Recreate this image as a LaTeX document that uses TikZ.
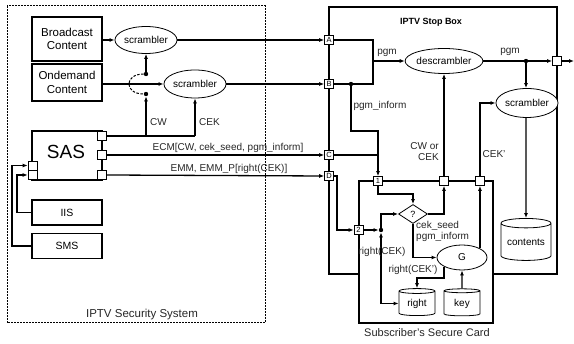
\documentclass[tikz,border=0pt]{standalone}
\usepackage{fontspec}
\setmainfont{Liberation Sans}
\usetikzlibrary{shapes.geometric,arrows.meta,calc}
\tikzset{
  conn/.style={line width=1.3pt},
  arr/.style={conn,-{Latex[length=5pt,width=4pt]}},
  boxn/.style={draw,line width=1.4pt,minimum width=70pt,inner sep=0pt,align=center,font=\fontsize{11.5}{13.5}\selectfont},
  ell/.style={ellipse,draw,line width=0.8pt,inner sep=0pt,fill=white,font=\fontsize{10}{12}\selectfont},
  port/.style={draw,fill=white,line width=0.7pt,minimum size=9pt,inner sep=0pt,font=\fontsize{7.5}{8}\selectfont},
  dot/.style={circle,fill=black,minimum size=4.4pt,inner sep=0pt},
  lbl/.style={font=\fontsize{10}{11}\selectfont,text=black!85,inner sep=0pt},
  cyl/.style={cylinder,shape border rotate=90,draw,line width=0.8pt,aspect=0.25,inner sep=0pt,font=\fontsize{10}{12}\selectfont},
}
\begin{document}
\begin{tikzpicture}[x=1pt,y=-1pt]
\useasboundingbox (0,0) rectangle (574,344);
% outer frames
\draw[line width=1pt,dash pattern=on 2pt off 1pt] (7,6) rectangle (265,323);
\node[lbl,font=\fontsize{11.5}{13}\selectfont] (iss) at (142,315) {IPTV Security System};
\draw[line width=1.3pt] (329,7) rectangle (557,274);
\node[lbl,font=\bfseries\fontsize{9}{10}\selectfont,text=black] (stb) at (431,22) {IPTV Stop Box};
% left boxes
\node[boxn,minimum height=44pt] (bc) at (67,39) {Broadcast\\Content};
\node[boxn,minimum height=37pt] (od) at (67,82.5) {Ondemand\\Content};
\node[draw,line width=1.4pt,minimum width=70pt,minimum height=49pt,inner sep=0pt] (sas) at (67,155.5) {};
\node[font=\fontsize{19}{20}\selectfont,inner sep=0pt] (sast) at (66,152) {SAS};
\node[boxn,minimum height=25pt,font=\fontsize{10.5}{12}\selectfont] (iis) at (67,212.5) {IIS};
\node[boxn,minimum height=25pt,font=\fontsize{10.5}{12}\selectfont] (sms) at (67,246) {SMS};
% SAS ports
\node[port] (s1) at (102,136) {};
\node[port] (s2) at (102,155) {};
\node[port] (s3) at (102,175) {};
\node[port] (l1) at (32.5,165.5) {};
\node[port] (l2) at (32.5,175) {};
% scramblers
\node[ell,minimum width=51pt,minimum height=27pt] (sc1) at (146,40) {scrambler};
\node[ell,minimum width=50pt,minimum height=28pt] (sc2) at (195,84) {scrambler};
\node[dot] (d1) at (146,74) {};
\node[dot] (d2) at (146,94) {};
\coordinate (cwb) at (146,136);
\coordinate (cekb) at (195,136);
\draw[arr] (bc.east |- sc1.west) -- (sc1.west);
\draw[arr] (od.east |- sc2.west) -- (sc2.west);
\draw[arr] (d1) -- (sc1.south);
\draw[line width=1pt,dash pattern=on 2.5pt off 1.5pt] (d1) .. controls (124,74) and (124,94) .. (d2);
\draw[conn] (s1.east) -- (cekb);
\draw[arr] (cwb) -- (d2);
\draw[arr] (cekb) -- (sc2.south);
\node[lbl,anchor=west] (cwl) at (150,122) {CW};
\node[lbl,anchor=west] (cekl) at (199,122) {CEK};
% IIS / SMS
\draw[arr] (sms.west) -- (12,246) |- (l1.west);
\draw[arr] (iis.west) -- (17,212.5) |- (l2.west);
% STB ports
\node[port] (pa) at (329,40) {A};
\node[port] (pb) at (329,84) {B};
\node[port] (pc) at (329,155) {C};
\node[port] (pd) at (329,176) {D};
\draw[arr] (sc1.east) -- (pa.west);
\draw[arr] (sc2.east) -- (pb.west);
\draw[arr] (s2.east) -- (pc.west);
\draw[arr] (s3.east) -- (pd.west);
\node[lbl] (ecm) at (228,148) {ECM[CW, cek\_seed, pgm\_inform]};
\node[lbl] (emm) at (229,169) {EMM, EMM\_P[right(CEK)]};
% descrambler
\node[ell,minimum width=65pt,minimum height=25pt] (desc) at (444,61) {descrambler};
\node[port] (po) at (557,61) {};
\coordinate (out) at (574,61);
\coordinate (ja) at (373,61);
\draw[arr] (pa.east) -| (ja) -- (desc.west);
\draw[conn] (pb.east) -| (ja);
\node[lbl] (pgm1) at (387,53) {pgm};
\node[dot] (jb) at (351,84) {};
\node[dot] (jo) at (526,61) {};
\draw[arr] (desc.east) -- (po.west);
\draw[arr] (po.east) -- (out);
\node[lbl] (pgm2) at (510,52) {pgm};
% STB scrambler & contents
\node[ell,minimum width=50pt,minimum height=29pt] (sc3) at (527,103) {scrambler};
\node[cyl,minimum width=50pt,minimum height=42pt] (cont) at (526,242) {contents};
\draw[arr] (jo) -- (jo |- sc3.north);
\draw[arr] (jo |- sc3.south) -- (cont.north);
% card
\draw[line width=1.3pt,fill=white] (359,181) rectangle (493,323);
\node[lbl,font=\fontsize{11}{12}\selectfont] (cardl) at (427,333) {Subscriber's Secure Card};
\node[port] (p1) at (378,181) {1};
\node[port] (p2) at (358.5,230) {2};
\node[port] (p3) at (444,181) {};
\node[port] (p4) at (480,181) {};
\draw[arr] (jb) -- (351,131) -| (p1.north);
\draw[conn] (pc.east) -- (378,155);
\node[lbl] (pgmi) at (380,106) {pgm\_inform};
% inside card
\node[diamond,draw,line width=0.8pt,minimum width=29pt,minimum height=19pt,inner sep=0pt,fill=white,font=\fontsize{9}{10}\selectfont] (q) at (413,214) {?};
\node[ell,minimum width=50pt,minimum height=25pt] (g) at (462,257.5) {G};
\node[cyl,minimum width=36pt,minimum height=27pt] (rt) at (417,303.5) {right};
\node[cyl,minimum width=36pt,minimum height=27pt] (ky) at (462,303.5) {key};
\node[dot] (jr) at (381,230) {};
\draw[arr] (pd.east) -- (337,176) |- (p2.west);
\draw[arr] (p2.east) -- (jr);
\draw[arr] (jr) |- (q.west);
\draw[conn,{Latex[length=5pt,width=4pt]}-{Latex[length=5pt,width=4pt]}] (jr) |- (rt.west);
\draw[arr] (p1.south) -- (378,194) -| (q.north);
\draw[arr] (q.east) -| (p3.south);
\draw[arr] (p3.north) -- (desc.south);
\draw[arr] (q.south) |- (g.west);
\draw[arr] (g.north east) -- (g.north east |- p4.south);
\draw[arr] (p4.north) |- (sc3.west);
\draw[arr] (ky.north) -- (g.south);
\draw[arr] (g.south west) -- (g.south west |- 0,278) -| (rt.north);
\node[lbl,align=right,anchor=east] (cwor) at (439,152) {CW or\\CEK};
\node[lbl] (cekp) at (494,154) {CEK'};
\node[lbl,align=left,anchor=west] (seed) at (416,231.5) {cek\_seed\\pgm\_inform};
\node[lbl] (rcek) at (382,252) {right(CEK)};
\node[lbl] (rcekp) at (413,270) {right(CEK')};
\end{tikzpicture}
\end{document}
